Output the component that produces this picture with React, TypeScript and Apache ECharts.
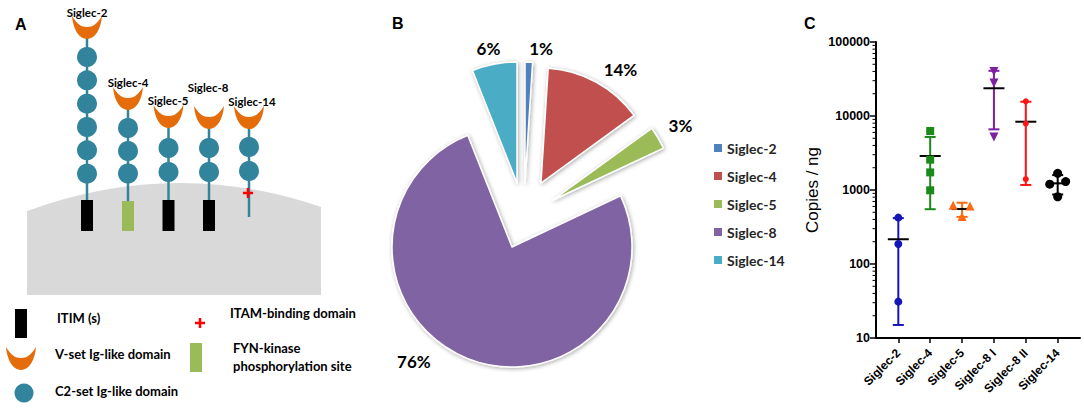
import React, { useEffect, useRef } from "react";
import * as echarts from "echarts";

// ---------------- Panel B data (pie) ----------------
const pieNames = ["Siglec-2", "Siglec-4", "Siglec-5", "Siglec-8", "Siglec-14"];
const pieValues = [1, 14, 3, 76, 6];

// ---------------- Panel C data (copies / ng) ----------------
const copyCategories = ["Siglec-2", "Siglec-4", "Siglec-5", "Siglec-8 I", "Siglec-8 II", "Siglec-14"];
const siglec2Copies = [423, 186, 31];
const siglec4Copies = [6270, 2570, 1730, 990];
const siglec5Copies = [620, 610, 440];
const siglec8ICopies = [39800, 28000, 5200];
const siglec8IICopies = [15800, 7900, 1400];
const siglec14Copies = [1680, 1200, 1300, 810];
const copyMeans = [216, 2880, 553, 23700, 8370, 1230];
const copySDs = [201, 2330, 120, 17100, 7200, 360];
// horizontal scatter offsets of the dots (category units)
const siglec5Jitter = [-0.28, 0.25, 0];
const siglec14Jitter = [0, -0.25, 0.25, 0];
const yTickValues = [10, 100, 1000, 10000, 100000];

// ---------------- styles ----------------
const pieColors = ["#4F81BD", "#C0504D", "#9BBB59", "#8064A2", "#4BACC6"];
const PIE_CX = 512;
const PIE_CY = 247;
const sliceStyle = [
  { dx: 13, dy: -64, r: 121, len: 14, len2: 0 },
  { dx: 29, dy: -64, r: 115, len: 15, len2: 0 },
  { dx: 41, dy: -47, r: 122, len: 25, len2: -11 },
  { dx: 0, dy: 0, r: 120, len: 3, len2: 36 },
  { dx: 5, dy: -64, r: 121, len: 16, len2: -9 },
];

const groupColors = ["#1616B8", "#1B8A1B", "#FF6A10", "#7F1FA2", "#FF1414", "#000000"];
const groupSymbols = ["circle", "rect", "triangle", "path://M0,0L10,0L5,10Z", "circle", "circle"];
const groupSymbolSizes = [8, 8, 9, 9, 6, 9];
const X_MIN = 0.3;
const X_MAX = 6.7;

const TEAL = "#31849B";
const ORANGE = "#E46C0A";
const FYN_GREEN = "#9BBB59";
const MEMBRANE = "#D9D9D9";
const SANS = "Lato";
const ARIAL = "'Liberation Sans', Arial, sans-serif";

const CUP_PATH = "M0,0 C1,13 7,23 15,23 C23,23 29,13 30,0 C25,8 21,11 15,11 C9,11 5,8 0,0 Z";
const MEMBRANE_PATH = "M27,211 Q174,157 321,207 L321,295 L27,295 Z";
echarts.graphic.registerShape("cup", echarts.graphic.extendPath(CUP_PATH, {}));
echarts.graphic.registerShape("membrane", echarts.graphic.extendPath(MEMBRANE_PATH, {}));

const receptors = [
  { name: "Siglec-2", x: 87, labelX: 87, labelY: 12, cupY: 16, circles: [57, 80.3, 103.7, 127, 150.3, 173.7], box: "#000", stemEnd: 200 },
  { name: "Siglec-4", x: 128, labelX: 128, labelY: 82, cupY: 87, circles: [128, 151, 173.5], box: FYN_GREEN, stemEnd: 201 },
  { name: "Siglec-5", x: 168.5, labelX: 168, labelY: 100, cupY: 105, circles: [148, 172], box: "#000", stemEnd: 200 },
  { name: "Siglec-8", x: 209, labelX: 208, labelY: 87, cupY: 106, circles: [148, 172], box: "#000", stemEnd: 200 },
  { name: "Siglec-14", x: 249, labelX: 252, labelY: 101, cupY: 106, circles: [147, 171], box: null as string | null, stemEnd: 217, plusY: 193 },
];

function txt(text: string, x: number, y: number, size: number, align = "left", family = SANS, weight: any = "bold") {
  return {
    type: "text",
    x,
    y,
    silent: true,
    style: { text, fill: "#000", fontSize: size, fontWeight: weight, fontFamily: family, align, verticalAlign: "middle" },
  };
}

function plus(cx: number, cy: number) {
  return {
    type: "group",
    silent: true,
    children: [
      { type: "line", shape: { x1: cx - 5, y1: cy, x2: cx + 5, y2: cy }, style: { stroke: "#FF0000", lineWidth: 2.5 } },
      { type: "line", shape: { x1: cx, y1: cy - 5, x2: cx, y2: cy + 5 }, style: { stroke: "#FF0000", lineWidth: 2.5 } },
    ],
  };
}

function buildPanelA(): any[] {
  const els: any[] = [];
  els.push({ type: "membrane", x: 0, y: 0, silent: true, style: { fill: MEMBRANE } });
  receptors.forEach((r) => {
    els.push({ type: "line", silent: true, shape: { x1: r.x, y1: r.cupY + 20, x2: r.x, y2: r.stemEnd }, style: { stroke: TEAL, lineWidth: 2.5 } });
    r.circles.forEach((cy) => {
      els.push({ type: "circle", silent: true, shape: { cx: r.x, cy, r: 10 }, style: { fill: TEAL } });
    });
    els.push({ type: "cup", x: r.x - 15, y: r.cupY, silent: true, style: { fill: ORANGE } });
    if (r.box) {
      els.push({ type: "rect", silent: true, shape: { x: r.x - 6, y: r.stemEnd, width: 12, height: 231 - r.stemEnd }, style: { fill: r.box } });
    }
    if ((r as any).plusY) els.push(plus(r.x - 1, (r as any).plusY));
    els.push(txt(r.name, r.labelX, r.labelY, 11.5, "center"));
  });
  // legend of panel A
  els.push({ type: "rect", silent: true, shape: { x: 15, y: 309, width: 12, height: 29 }, style: { fill: "#000" } });
  els.push(txt("ITIM (s)", 57, 318, 13));
  els.push({ type: "cup", x: 6, y: 347, silent: true, style: { fill: ORANGE } });
  els.push(txt("V-set Ig-like domain", 55, 354, 13));
  els.push({ type: "circle", silent: true, shape: { cx: 24, cy: 393, r: 9.5 }, style: { fill: TEAL } });
  els.push(txt("C2-set Ig-like domain", 55, 391, 13));
  els.push(plus(200, 323));
  els.push(txt("ITAM-binding domain", 230, 313, 13));
  els.push({ type: "rect", silent: true, shape: { x: 190, y: 343, width: 12, height: 29 }, style: { fill: FYN_GREEN } });
  els.push(txt("FYN-kinase", 233, 348, 13));
  els.push(txt("phosphorylation site", 233, 366, 13));
  // panel letters
  els.push(txt("A", 15, 24, 16, "left", ARIAL));
  els.push(txt("B", 392, 23, 16, "left", ARIAL));
  els.push(txt("C", 804, 23, 16, "left", ARIAL));
  return els;
}

function buildPieSeries(): any[] {
  const legendProvider = {
    type: "pie",
    name: "pie-legend",
    center: [PIE_CX, PIE_CY],
    radius: [0, 0],
    silent: true,
    label: { show: false },
    labelLine: { show: false },
    itemStyle: { borderWidth: 0 },
    data: pieNames.map((n, j) => ({ name: n, value: pieValues[j], itemStyle: { color: pieColors[j] } })),
  };
  const slices = pieNames.map((_, i) => {
    const s = sliceStyle[i];
    return {
      type: "pie",
      name: `pie-slice-${i}`,
      center: [PIE_CX + s.dx, PIE_CY + s.dy],
      radius: s.r,
      startAngle: 90,
      clockwise: true,
      silent: true,
      avoidLabelOverlap: false,
      label: {
        position: "outside",
        formatter: "{c}%",
        fontFamily: SANS,
        fontWeight: "bold",
        fontSize: 17,
        color: "#000",
        distanceToLabelLine: 0,
      },
      labelLine: { show: false, length: s.len, length2: s.len2 },
      data: pieNames.map((n, j) => ({
        name: n,
        value: pieValues[j],
        itemStyle:
          j === i
            ? {
                color: pieColors[j],
                borderColor: "#fff",
                borderWidth: 1.5,
                shadowBlur: 4,
                shadowColor: "rgba(0,0,0,0.35)",
                shadowOffsetX: 1,
                shadowOffsetY: 1,
              }
            : { color: "rgba(0,0,0,0)", borderWidth: 0 },
        label: { show: j === i },
      })),
    };
  });
  return [legendProvider, ...slices];
}

function buildPanelCSeries(): any[] {
  const groups = [siglec2Copies, siglec4Copies, siglec5Copies, siglec8ICopies, siglec8IICopies, siglec14Copies];
  const jitters: number[][] = [[], [], siglec5Jitter, [], [], siglec14Jitter];
  const minorTicks: number[] = [];
  for (let d = 0; d < yTickValues.length - 1; d++) {
    for (let k = 2; k <= 9; k++) minorTicks.push(yTickValues[d] * k);
  }
  const minorTickSeries = {
    type: "custom",
    name: "copies-minor-ticks",
    silent: true,
    clip: false,
    data: minorTicks.map((v) => [X_MIN, v]),
    renderItem: (_p: any, api: any) => {
      const pt = api.coord([api.value(0), api.value(1)]);
      return { type: "line", shape: { x1: pt[0] - 3.5, y1: pt[1], x2: pt[0], y2: pt[1] }, style: { stroke: "#000", lineWidth: 1 } };
    },
  };
  const errorBars = {
    type: "custom",
    name: "copies-errorbars",
    silent: true,
    clip: false,
    z: 3,
    data: copyMeans.map((m, i) => [i + 1, m, copySDs[i]]),
    encode: { x: 0, y: 1 },
    renderItem: (p: any, api: any) => {
      const i = p.dataIndex;
      const x = api.value(0);
      const m = api.value(1);
      const s = api.value(2);
      const top = api.coord([x, m + s]);
      const bot = api.coord([x, m - s]);
      const mid = api.coord([x, m]);
      const c = groupColors[i];
      return {
        type: "group",
        children: [
          { type: "line", shape: { x1: top[0], y1: top[1], x2: bot[0], y2: bot[1] }, style: { stroke: c, lineWidth: 2 } },
          { type: "line", shape: { x1: top[0] - 5.5, y1: top[1], x2: top[0] + 5.5, y2: top[1] }, style: { stroke: c, lineWidth: 2 } },
          { type: "line", shape: { x1: bot[0] - 5.5, y1: bot[1], x2: bot[0] + 5.5, y2: bot[1] }, style: { stroke: c, lineWidth: 2 } },
          { type: "line", shape: { x1: mid[0] - 10.5, y1: mid[1], x2: mid[0] + 10.5, y2: mid[1] }, style: { stroke: "#000", lineWidth: 2 } },
        ],
      };
    },
  };
  const scatters = groups.map((vals, g) => ({
    type: "scatter",
    name: `copies-${copyCategories[g]}`,
    silent: true,
    z: 4,
    symbol: groupSymbols[g],
    symbolSize: groupSymbolSizes[g],
    itemStyle: { color: groupColors[g], opacity: 1 },
    data: vals.map((v, k) => [g + 1 + (jitters[g][k] || 0), v]),
  }));
  return [minorTickSeries, errorBars, ...scatters];
}

function buildOption(): any {
  const catPositions = copyCategories.map((_, i) => i + 1);
  return {
    animation: false,
    backgroundColor: "#fff",
    graphic: { elements: buildPanelA() },
    legend: {
      orient: "vertical",
      left: 714,
      top: 141,
      padding: 0,
      itemWidth: 8,
      itemHeight: 8,
      itemGap: 14,
      icon: "rect",
      selectedMode: false,
      data: pieNames,
      textStyle: { fontFamily: SANS, fontWeight: "bold", fontSize: 14, color: "#262626" },
    },
    grid: { left: 876, top: 42, width: 204, height: 296 },
    xAxis: {
      type: "value",
      min: X_MIN,
      max: X_MAX,
      splitLine: { show: false },
      axisLine: { show: true, onZero: false, lineStyle: { color: "#000", width: 2 } },
      axisTick: { show: true, customValues: catPositions, length: 5, lineStyle: { color: "#000", width: 1.5 } },
      axisLabel: {
        customValues: catPositions,
        rotate: 45,
        margin: 13,
        formatter: (v: number) => copyCategories[Math.round(v) - 1] ?? "",
        fontFamily: ARIAL,
        fontWeight: "bold",
        fontSize: 12,
        color: "#000",
      },
    },
    yAxis: {
      type: "log",
      logBase: 10,
      min: 10,
      max: 100000,
      name: "Copies / ng",
      nameLocation: "middle",
      nameGap: 55,
      nameTextStyle: { fontFamily: ARIAL, fontSize: 17, color: "#000" },
      splitLine: { show: false },
      axisLine: { show: true, onZero: false, lineStyle: { color: "#000", width: 2 } },
      axisTick: { show: true, length: 6, lineStyle: { color: "#000", width: 1.5 } },
      axisLabel: {
        margin: 6,
        formatter: (v: number) => String(Math.round(v)),
        fontFamily: ARIAL,
        fontWeight: "bold",
        fontSize: 12.5,
        color: "#000",
      },
    },
    series: [...buildPieSeries(), ...buildPanelCSeries()],
  };
}

export default function App() {
  const ref = useRef<HTMLDivElement>(null);
  useEffect(() => {
    if (!ref.current) return;
    const chart = echarts.init(ref.current, null, { renderer: "svg" });
    chart.setOption(buildOption());
    return () => chart.dispose();
  }, []);
  return (
    <div
      ref={ref}
      style={{ position: "fixed", left: 0, top: 0, width: 1084, height: 410, background: "#fff" }}
    />
  );
}
